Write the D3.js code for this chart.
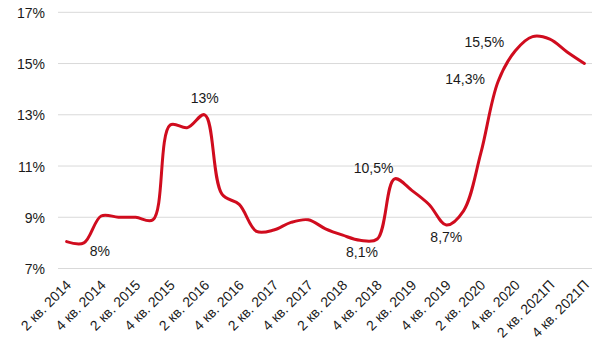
<!DOCTYPE html>
<html>
<head>
<meta charset="utf-8">
<script src="https://cdn.jsdelivr.net/npm/d3@7"></script>
<style>
  html, body { margin: 0; padding: 0; background: #fff; }
  svg { display: block; font-family: "Liberation Sans", Arial, sans-serif; }
</style>
</head>
<body>
<svg id="chart" width="592" height="340"></svg>
<script>
// Quarterly series, 2 кв. 2014 – 4 кв. 2021 (прогноз)
const quarters = [
  "2 кв. 2014", "3 кв. 2014", "4 кв. 2014",
  "1 кв. 2015", "2 кв. 2015", "3 кв. 2015", "4 кв. 2015",
  "1 кв. 2016", "2 кв. 2016", "3 кв. 2016", "4 кв. 2016",
  "1 кв. 2017", "2 кв. 2017", "3 кв. 2017", "4 кв. 2017",
  "1 кв. 2018", "2 кв. 2018", "3 кв. 2018", "4 кв. 2018",
  "1 кв. 2019", "2 кв. 2019", "3 кв. 2019", "4 кв. 2019",
  "1 кв. 2020", "2 кв. 2020", "3 кв. 2020", "4 кв. 2020",
  "1 кв. 2021П", "2 кв. 2021П", "3 кв. 2021П", "4 кв. 2021П"
];

const values = [
  8.05, 8.0, 9.05,
  9.0, 9.0, 8.9, 12.6,
  12.5, 13.0, 9.9, 9.5,
  8.45, 8.5, 8.8, 8.9,
  8.55, 8.3, 8.1, 8.15,
  10.5, 10.05, 9.5, 8.7,
  9.25, 11.5, 14.3, 15.5,
  16.05, 15.95, 15.45, 15.0
];

// Every other quarter gets an axis label
const tickLabels = quarters.filter((d, i) => i % 2 === 0);

// Y axis ticks, percent
const yTicks = [7, 9, 11, 13, 15, 17];

// Quarters whose value is written on the chart
const labelledQuarters = [1, 8, 17, 19, 22, 25, 26];

const svg = d3.select("#chart");

const x = d3.scalePoint()
  .domain(quarters)
  .range([58, 593])
  .padding(0.5);

const y = d3.scaleLinear()
  .domain([7, 17])
  .range([268.5, 12.3]);

// Horizontal gridlines
svg.append("g")
  .selectAll("line")
  .data(yTicks)
  .join("line")
  .attr("x1", 58)
  .attr("x2", 593)
  .attr("y1", d => y(d))
  .attr("y2", d => y(d))
  .attr("stroke", "#d9d9d9")
  .attr("stroke-width", 1);

// Y axis labels
const yAxis = d3.axisLeft(y)
  .tickValues(yTicks)
  .tickSize(0)
  .tickPadding(0)
  .tickFormat(d => d + "%");

svg.append("g")
  .attr("transform", "translate(45,0)")
  .call(yAxis)
  .call(g => g.select(".domain").remove())
  .selectAll("text")
  .attr("font-family", "Liberation Sans, Arial, sans-serif")
  .attr("font-size", 14)
  .attr("fill", "#1a1a1a")
  .attr("dy", "0.36em");

// X axis labels, rotated
const xAxis = d3.axisBottom(x)
  .tickValues(tickLabels)
  .tickSize(0)
  .tickPadding(0);

svg.append("g")
  .attr("transform", "translate(0,283)")
  .call(xAxis)
  .call(g => g.select(".domain").remove())
  .selectAll("text")
  .attr("font-family", "Liberation Sans, Arial, sans-serif")
  .attr("font-size", 14)
  .attr("fill", "#1a1a1a")
  .attr("text-anchor", "end")
  .attr("dy", 0)
  .attr("transform", "translate(5,3) rotate(-45)");

// Smoothed line
const line = d3.line()
  .x((d, i) => x(quarters[i]))
  .y(d => y(d))
  .curve(d3.curveCatmullRom.alpha(0.5));

svg.append("path")
  .datum(values)
  .attr("d", line)
  .attr("fill", "none")
  .attr("stroke", "#d00c1e")
  .attr("stroke-width", 3)
  .attr("stroke-linejoin", "round")
  .attr("stroke-linecap", "round");

// Value labels
const fmt = v => (Number.isInteger(v) ? v : v.toFixed(1).replace(".", ",")) + "%";
const labelOffset = {
  1: [16, 13], 8: [0, -12], 17: [2, 17], 19: [-21, -6],
  22: [0, 17], 25: [-33, 3], 26: [-31, -4]
};

svg.append("g")
  .selectAll("text")
  .data(labelledQuarters)
  .join("text")
  .attr("x", i => x(quarters[i]) + labelOffset[i][0])
  .attr("y", i => y(values[i]) + labelOffset[i][1])
  .attr("text-anchor", "middle")
  .attr("font-size", 14)
  .attr("fill", "#1a1a1a")
  .text(i => fmt(values[i]));
</script>
</body>
</html>
